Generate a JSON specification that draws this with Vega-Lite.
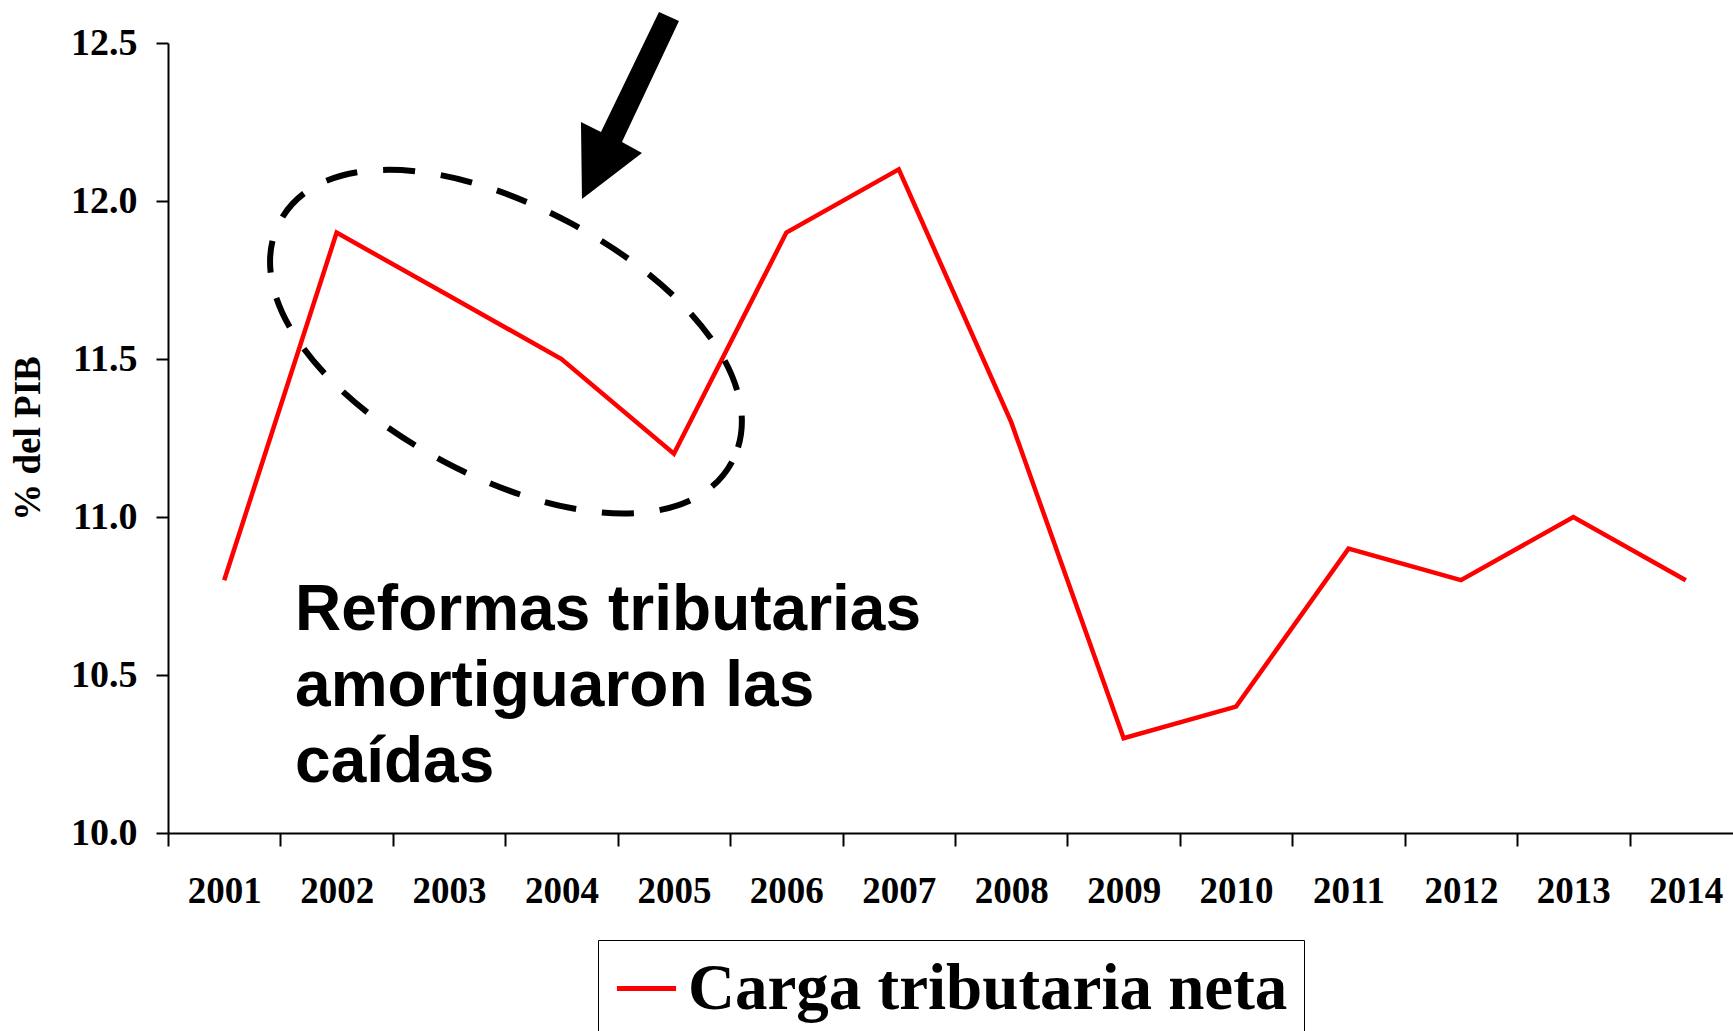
{
  "$schema": "https://vega.github.io/schema/vega-lite/v6.json",
  "width": 1565,
  "height": 790,
  "autosize": {"type": "none"},
  "padding": {"left": 168, "top": 43, "right": 0, "bottom": 198},
  "background": "white",
  "config": {"view": {"stroke": null}, "axis": {"grid": false}},
  "datasets": {
    "serie": [
      {"year": "2001", "value": 10.8, "serie": "Carga tributaria neta"},
      {"year": "2002", "value": 11.9, "serie": "Carga tributaria neta"},
      {"year": "2003", "value": 11.7, "serie": "Carga tributaria neta"},
      {"year": "2004", "value": 11.5, "serie": "Carga tributaria neta"},
      {"year": "2005", "value": 11.2, "serie": "Carga tributaria neta"},
      {"year": "2006", "value": 11.9, "serie": "Carga tributaria neta"},
      {"year": "2007", "value": 12.1, "serie": "Carga tributaria neta"},
      {"year": "2008", "value": 11.3, "serie": "Carga tributaria neta"},
      {"year": "2009", "value": 10.3, "serie": "Carga tributaria neta"},
      {"year": "2010", "value": 10.4, "serie": "Carga tributaria neta"},
      {"year": "2011", "value": 10.9, "serie": "Carga tributaria neta"},
      {"year": "2012", "value": 10.8, "serie": "Carga tributaria neta"},
      {"year": "2013", "value": 11.0, "serie": "Carga tributaria neta"},
      {"year": "2014", "value": 10.8, "serie": "Carga tributaria neta"}
    ],
    "nota": [{"x": 2001.63, "y": 10.642, "texto": "Reformas tributarias\namortiguaron las\ncaídas"}],
    "elipse": [{"x": 2003.506, "y": 11.555}],
    "flecha": [{"x": 2004.609, "y": 12.304}]
  },
  "layer": [
    {
      "data": {"name": "serie"},
      "mark": {"type": "line", "strokeWidth": 4.5},
      "encoding": {
        "x": {
          "field": "year",
          "type": "ordinal",
          "scale": {"paddingInner": 0, "paddingOuter": 0, "range": [0, 1574]},
          "axis": {
            "title": null,
            "labelAngle": 0,
            "tickBand": "extent",
            "domainColor": "black",
            "domainWidth": 2,
            "tickColor": "black",
            "tickWidth": 2,
            "tickSize": 13,
            "labelFont": "Liberation Serif",
            "labelFontSize": 37,
            "labelFontWeight": "bold",
            "labelColor": "black",
            "labelPadding": 27
          }
        },
        "y": {
          "field": "value",
          "type": "quantitative",
          "scale": {"domain": [10, 12.5], "nice": false, "zero": false},
          "axis": {
            "title": "% del PIB",
            "values": [10, 10.5, 11, 11.5, 12, 12.5],
            "format": ".1f",
            "domainColor": "black",
            "domainWidth": 2,
            "tickColor": "black",
            "tickWidth": 2,
            "tickSize": 12,
            "labelFont": "Liberation Serif",
            "labelFontSize": 38,
            "labelFontWeight": "bold",
            "labelColor": "black",
            "labelPadding": 19,
            "titleFont": "Liberation Serif",
            "titleFontSize": 37,
            "titleFontWeight": "bold",
            "titleColor": "black",
            "titlePadding": 23
          }
        },
        "color": {
          "field": "serie",
          "type": "nominal",
          "scale": {"range": ["#FF0000"]},
          "legend": {
            "orient": "none",
            "legendX": 430,
            "legendY": 897,
            "title": null,
            "symbolType": "stroke",
            "symbolSize": 3500,
            "symbolStrokeWidth": 5,
            "labelFont": "Liberation Serif",
            "labelFontSize": 65,
            "labelFontWeight": "bold",
            "labelColor": "black",
            "labelLimit": 0,
            "labelOffset": 9,
            "padding": 16,
            "strokeColor": "black",
            "fillColor": "white"
          }
        }
      }
    },
    {
      "data": {"name": "elipse"},
      "mark": {
        "type": "point",
        "shape": "M0.9041,0.4808C0.7571,0.7573,0.2709,0.7556,-0.2535,0.4768C-0.7779,0.1980,-1.0511,-0.2043,-0.9041,-0.4808C-0.7571,-0.7573,-0.2709,-0.7556,0.2535,-0.4768C0.7779,-0.1980,1.0511,0.2043,0.9041,0.4808Z",
        "size": 250000,
        "filled": false,
        "color": "black",
        "opacity": 1,
        "strokeWidth": 6,
        "strokeDash": [32, 26]
      },
      "encoding": {
        "x": {"field": "x", "type": "quantitative", "scale": {"domain": [2000.5, 2014.5], "range": [0, 1574], "nice": false, "zero": false}, "axis": null},
        "y": {"field": "y", "type": "quantitative"}
      }
    },
    {
      "data": {"name": "flecha"},
      "mark": {
        "type": "point",
        "shape": "M0.29,-0.93L0.49,-0.84L-0.08,0.37L0.12,0.48L-0.48,0.94L-0.49,0.17L-0.29,0.27Z",
        "size": 40000,
        "filled": true,
        "color": "black",
        "opacity": 1,
        "strokeWidth": 0
      },
      "encoding": {
        "x": {"field": "x", "type": "quantitative", "scale": {"domain": [2000.5, 2014.5], "range": [0, 1574], "nice": false, "zero": false}, "axis": null},
        "y": {"field": "y", "type": "quantitative"}
      }
    },
    {
      "data": {"name": "nota"},
      "mark": {
        "type": "text",
        "align": "left",
        "baseline": "alphabetic",
        "font": "Liberation Sans",
        "fontWeight": "bold",
        "fontSize": 64,
        "lineHeight": 76,
        "lineBreak": "\n",
        "color": "black"
      },
      "encoding": {
        "x": {"field": "x", "type": "quantitative", "scale": {"domain": [2000.5, 2014.5], "range": [0, 1574], "nice": false, "zero": false}, "axis": null},
        "y": {"field": "y", "type": "quantitative"},
        "text": {"field": "texto"}
      }
    }
  ],
  "resolve": {"scale": {"x": "independent"}}
}
